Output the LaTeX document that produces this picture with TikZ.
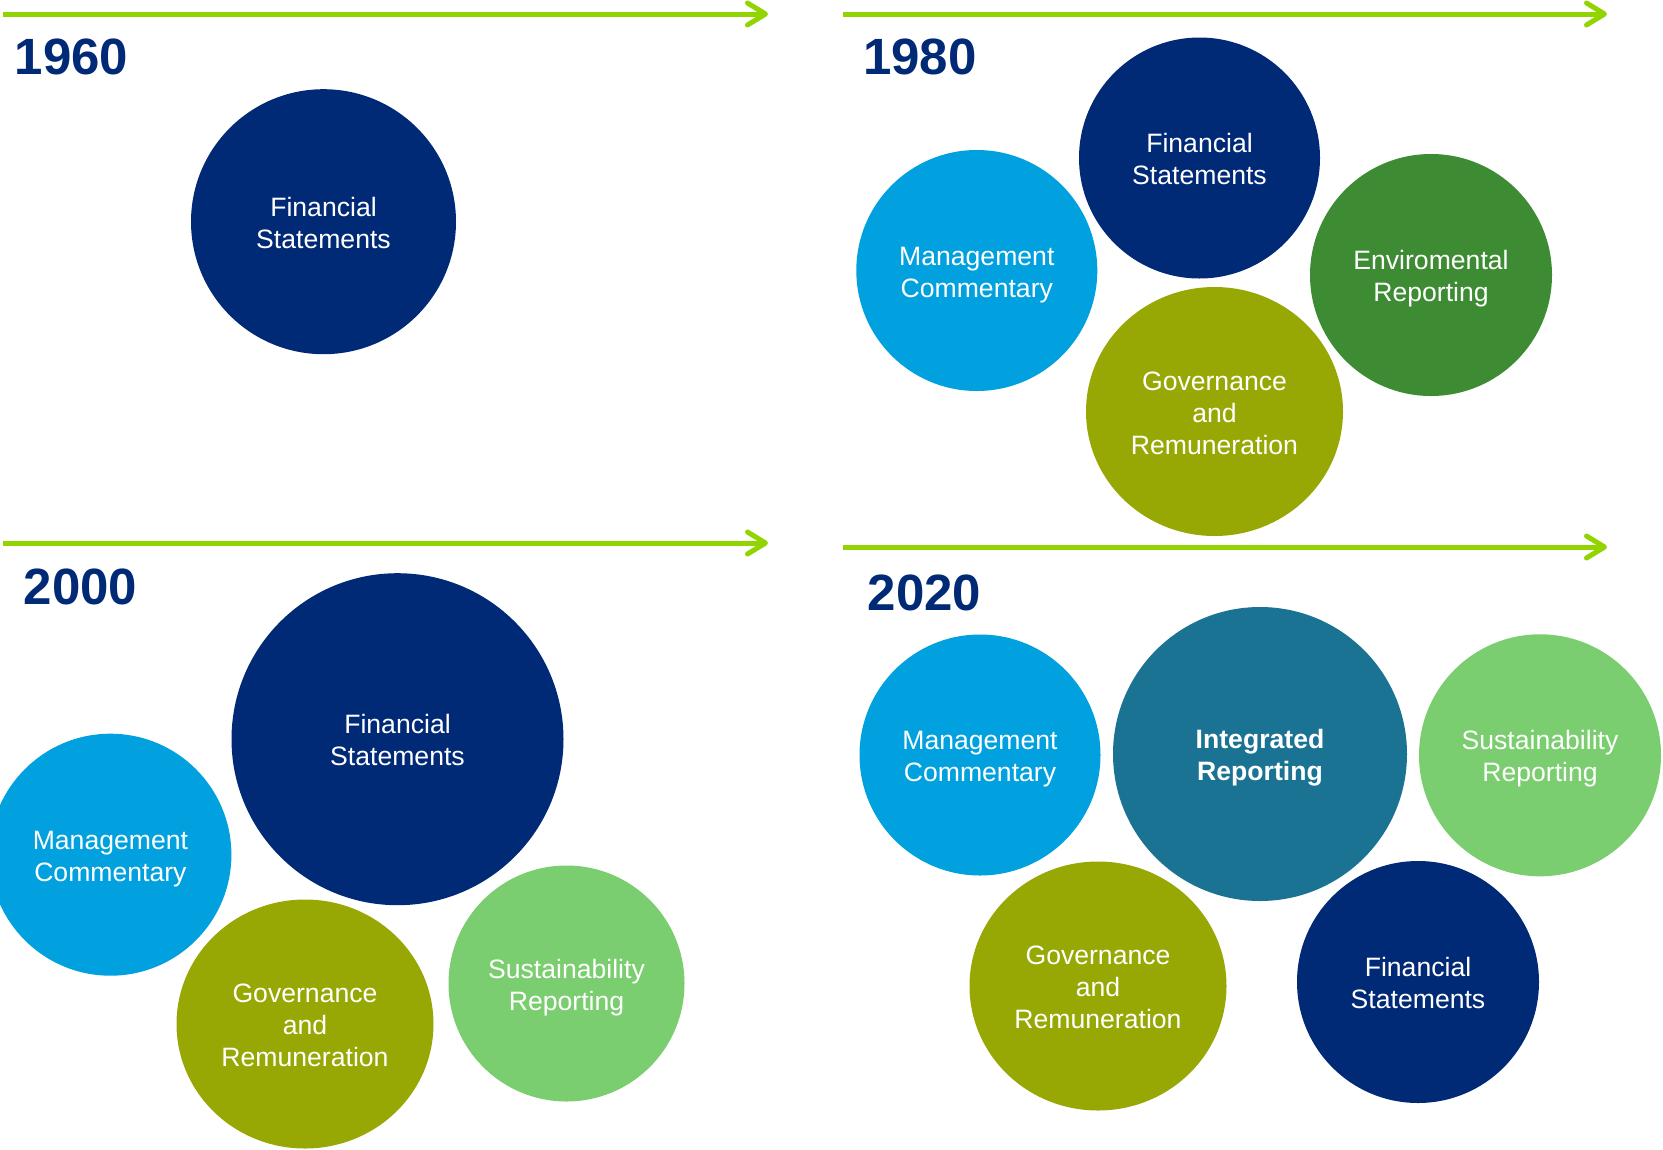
\documentclass[tikz,border=0pt]{standalone}
\usepackage{fontspec}
\setmainfont{Liberation Sans}
\usetikzlibrary{arrows.meta,shapes.geometric}
\definecolor{navy}{RGB}{0,41,118}
\definecolor{skyblue}{RGB}{0,161,222}
\definecolor{olive}{RGB}{151,168,5}
\definecolor{forest}{RGB}{61,139,51}
\definecolor{lime}{RGB}{122,206,111}
\definecolor{teal}{RGB}{27,115,147}
\definecolor{arrowgreen}{RGB}{146,212,0}
\begin{document}
\begin{tikzpicture}[x=1pt,y=-1pt,
  bubble/.style={circle, inner sep=0pt, text=white, align=center, font=\fontsize{26.6}{32}\selectfont, text height=53pt, text depth=0pt},
  oval/.style={ellipse, inner sep=0pt, text=white, align=center, font=\fontsize{26.6}{32}\selectfont, fill=olive, minimum width=257pt, minimum height=249pt, text height=85pt, text depth=0pt},
  year/.style={anchor=base west, inner sep=0pt, text=navy, font=\fontsize{51}{51}\selectfont\bfseries},
  timeline/.style={draw=arrowgreen, line width=5pt, -{Straight Barb[length=18pt, width=22pt, round]}}]
\useasboundingbox (0,0) rectangle (1663,1149);

% time lines
\coordinate (t60a) at (3,14);    \coordinate (t60b) at (768,14);
\coordinate (t80a) at (843,14);  \coordinate (t80b) at (1607,14);
\coordinate (t00a) at (3,543);   \coordinate (t00b) at (768,543);
\coordinate (t20a) at (843,547); \coordinate (t20b) at (1607,547);
\draw [timeline] (t60a) -- (t60b);
\draw [timeline] (t80a) -- (t80b);
\draw [timeline] (t00a) -- (t00b);
\draw [timeline] (t20a) -- (t20b);

\node [year] (y60) at (14.5,74) {1960};
\node [year] (y80) at (863,74) {1980};
\node [year] (y00) at (23.5,604) {2000};
\node [year] (y20) at (867.5,610) {2020};

% 1960
\node [bubble, fill=navy, minimum size=265pt] (fs60) at (323.5,221.7) {Financial\\Statements};

% 1980
\node [bubble, fill=navy, minimum size=241pt] (fs80) at (1199.5,158) {Financial\\Statements};
\node [bubble, fill=skyblue, minimum size=241pt] (mc80) at (976.8,270.5) {Management\\Commentary};
\node [bubble, fill=forest, minimum size=242pt] (env80) at (1431,275) {Enviromental\\Reporting};
\node [oval] (gov80) at (1214.5,411.5) {Governance\\and\\Remuneration};

% 2000
\node [bubble, fill=navy, minimum size=332pt] (fs00) at (397.5,739.2) {Financial\\Statements};
\node [bubble, fill=skyblue, minimum size=242pt] (mc00) at (110.4,854.7) {Management\\Commentary};
\node [oval] (gov00) at (305,1024) {Governance\\and\\Remuneration};
\node [bubble, fill=lime, minimum size=236pt] (sus00) at (566.5,983.5) {Sustainability\\Reporting};

% 2020
\node [bubble, fill=skyblue, minimum size=241pt] (mc20) at (980,755) {Management\\Commentary};
\node [bubble, fill=teal, minimum size=294pt, font=\fontsize{26.6}{32}\selectfont\bfseries] (ir20) at (1260,754) {Integrated\\Reporting};
\node [bubble, fill=lime, minimum size=242pt] (sus20) at (1540,755.3) {Sustainability\\Reporting};
\node [oval] (gov20) at (1098,986) {Governance\\and\\Remuneration};
\node [bubble, fill=navy, minimum size=242pt] (fs20) at (1418,982) {Financial\\Statements};
\end{tikzpicture}
\end{document}
